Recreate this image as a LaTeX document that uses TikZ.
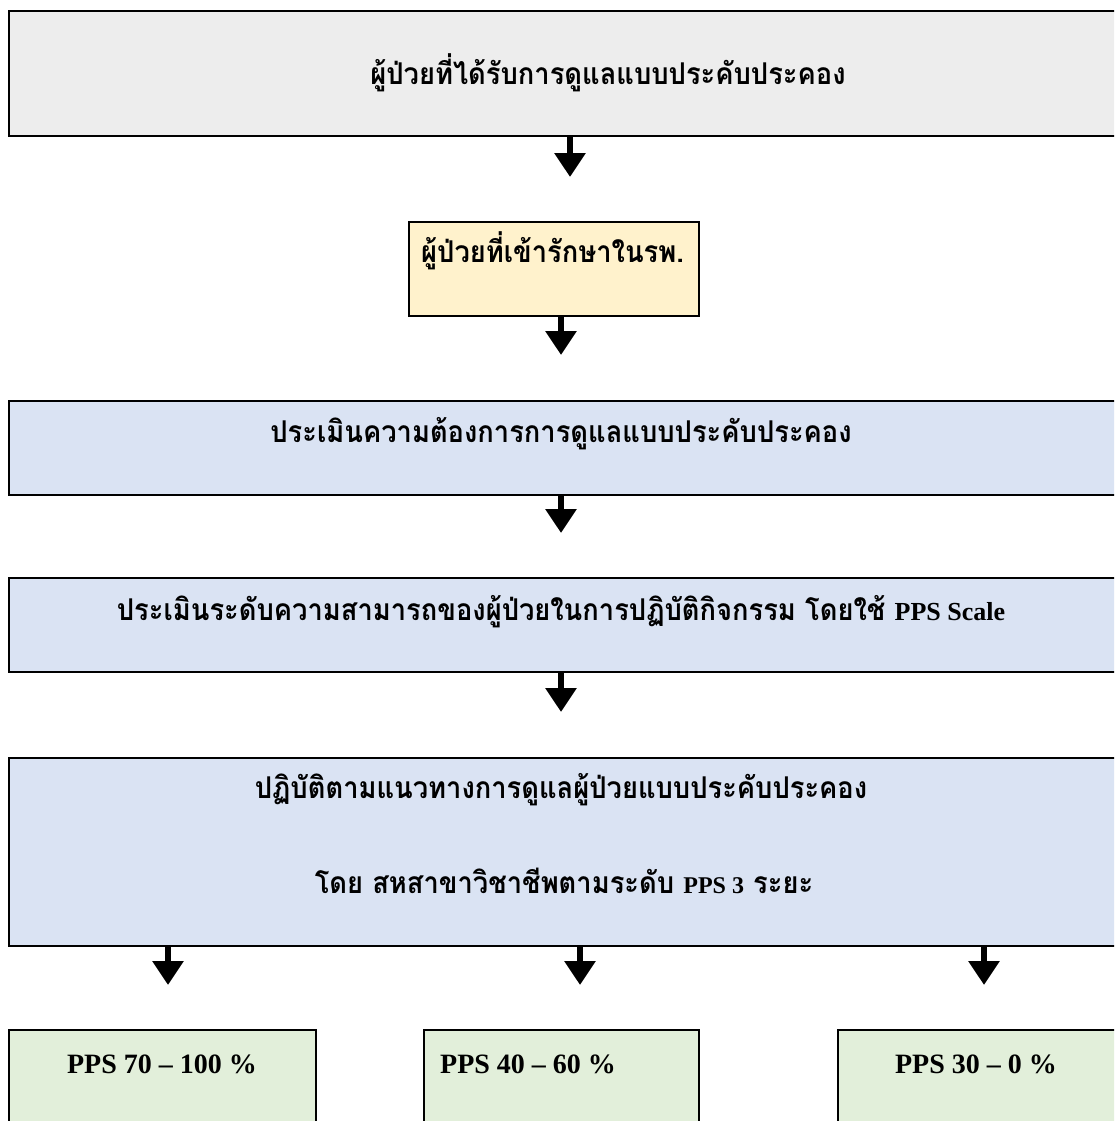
\documentclass[tikz,border=0pt]{standalone}
\usepackage{fontspec}
\setmainfont{Liberation Serif}
\newfontfamily\thaifont[Script=Thai, FakeStretch=0.91]{Loma}
\newfontfamily\latinfont{Liberation Serif}
\usetikzlibrary{arrows.meta}

\definecolor{boxgray}{HTML}{EDEDED}
\definecolor{boxyellow}{HTML}{FFF2CC}
\definecolor{boxblue}{HTML}{DAE3F3}
\definecolor{boxgreen}{HTML}{E2EFDA}

\begin{document}
\begin{tikzpicture}[x=1pt, y=-1pt,
  panel/.style={draw=black, line width=2.8pt, rectangle, inner sep=0pt,
    outer sep=0pt, anchor=north west},
  flow/.style={line width=6.5pt, -{Triangle[length=24pt, width=30pt]}},
  thai/.style={font=\thaifont\bfseries\fontsize{30}{36}\selectfont,
    inner sep=0pt, anchor=base},
  latin/.style={font=\latinfont\bfseries\fontsize{28}{34}\selectfont,
    inner sep=0pt, anchor=base}]

\useasboundingbox (0,0) rectangle (1114,1121);
\clip (0,0) rectangle (1114,1121);

% boxes of the flow
\node[panel, fill=boxgray,   minimum width=1107pt, minimum height=125pt] (b1) at (9,11) {};
\node[panel, fill=boxyellow, minimum width=290pt,  minimum height=94pt]  (b2) at (409,222) {};
\node[panel, fill=boxblue,   minimum width=1107pt, minimum height=94pt]  (b3) at (9,401) {};
\node[panel, fill=boxblue,   minimum width=1107pt, minimum height=94pt]  (b4) at (9,578) {};
\node[panel, fill=boxblue,   minimum width=1107pt, minimum height=188pt] (b5) at (9,758) {};
\node[panel, fill=boxgreen,  minimum width=307pt,  minimum height=110pt] (c1) at (9,1030) {};
\node[panel, fill=boxgreen,  minimum width=275pt,  minimum height=110pt] (c2) at (424,1030) {};
\node[panel, fill=boxgreen,  minimum width=278pt,  minimum height=110pt] (c3) at (838,1030) {};

% labels
\node[thai] (t1) at (608,85) {ผู้ป่วยที่ได้รับการดูแลแบบประคับประคอง};
\node[thai, anchor=base west] (t2) at (421,262) {ผู้ป่วยที่เข้ารักษาในรพ.};
\node[thai] (t3) at (561,442) {ประเมินความต้องการการดูแลแบบประคับประคอง};
\node[thai] (t4) at (561,620) {ประเมินระดับความสามารถของผู้ป่วยในการปฏิบัติกิจกรรม โดยใช้ {\latinfont\fontsize{26}{30}\selectfont PPS Scale}};
\node[thai] (t5) at (561,798) {ปฏิบัติตามแนวทางการดูแลผู้ป่วยแบบประคับประคอง};
\node[thai] (t6) at (564,893) {โดย สหสาขาวิชาชีพตามระดับ {\latinfont\fontsize{24}{30}\selectfont PPS 3} ระยะ};
\node[latin] (u1) at (162,1073) {PPS 70 – 100 \%};
\node[latin, anchor=base west] (u2) at (440,1073) {PPS 40 – 60 \%};
\node[latin] (u3) at (976,1073) {PPS 30 – 0 \%};

% arrow ends
\coordinate (e1) at (570,177);
\coordinate (e2) at (561,355);
\coordinate (e3) at (561,533);
\coordinate (e4) at (561,712);
\coordinate (f1) at (168,985);
\coordinate (f2) at (580,985);
\coordinate (f3) at (984,985);

\draw[flow] (b1.south -| e1) -- (e1);
\draw[flow] (b2.south -| e2) -- (e2);
\draw[flow] (b3.south -| e3) -- (e3);
\draw[flow] (b4.south -| e4) -- (e4);
\draw[flow] (b5.south -| f1) -- (f1);
\draw[flow] (b5.south -| f2) -- (f2);
\draw[flow] (b5.south -| f3) -- (f3);
\end{tikzpicture}
\end{document}
